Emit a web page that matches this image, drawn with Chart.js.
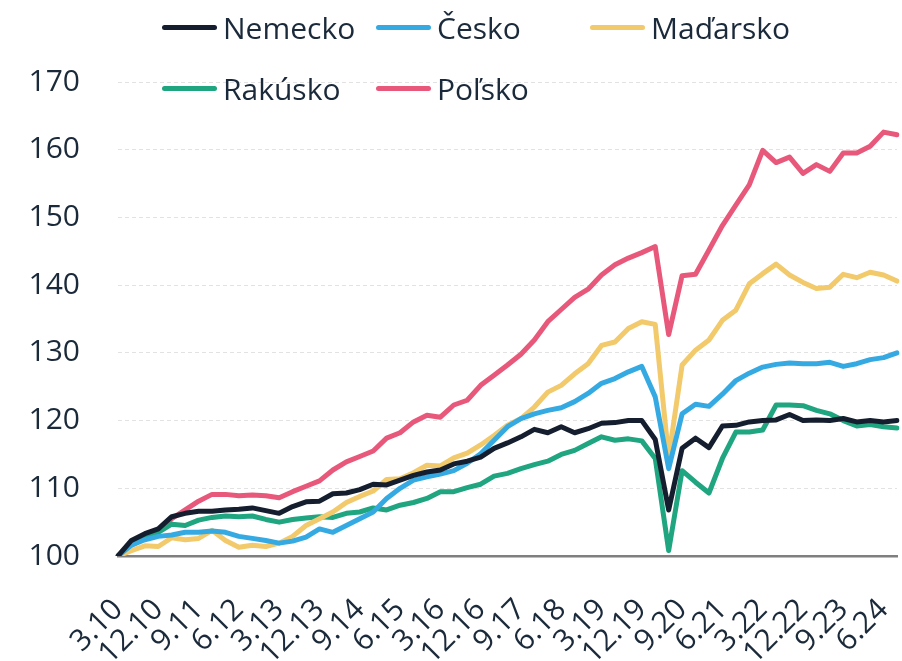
<!DOCTYPE html>
<html>
<head>
<meta charset="utf-8">
<script src="https://cdn.jsdelivr.net/npm/chart.js@4/dist/chart.umd.min.js"></script>
<style>
    body { margin: 0; background: #fff; }
    #wrap { position: relative; width: 902px; height: 661px; }
    #legend { position: absolute; left: 0; top: 0; width: 902px; height: 120px; pointer-events: none; }
    .legend-item { position: absolute; display: flex; align-items: center; font-family: "Open Sans", sans-serif; font-size: 30px; color: #1b2a3a; }
    .legend-line { width: 55px; height: 5px; border-radius: 3px; margin-right: 6px; }
</style>
</head>
<body>
<div id="wrap">
    <canvas id="chart" width="902" height="661"></canvas>
    <div id="legend"></div>
</div>
<script>
const labels = [
    '3.10', '6.10', '9.10', '12.10', '3.11', '6.11', '9.11', '12.11', '3.12', '6.12', '9.12', '12.12',
    '3.13', '6.13', '9.13', '12.13', '3.14', '6.14', '9.14', '12.14', '3.15', '6.15', '9.15', '12.15',
    '3.16', '6.16', '9.16', '12.16', '3.17', '6.17', '9.17', '12.17', '3.18', '6.18', '9.18', '12.18',
    '3.19', '6.19', '9.19', '12.19', '3.20', '6.20', '9.20', '12.20', '3.21', '6.21', '9.21', '12.21',
    '3.22', '6.22', '9.22', '12.22', '3.23', '6.23', '9.23', '12.23', '3.24', '6.24', '9.24'
];

const nemecko = [
    100, 102.3, 103.3, 104.0, 105.8, 106.3, 106.6, 106.6, 106.8, 106.9, 107.1, 106.7,
    106.3, 107.3, 108.0, 108.1, 109.2, 109.3, 109.8, 110.6, 110.5, 111.2, 111.9, 112.4,
    112.7, 113.6, 114.0, 114.6, 115.9, 116.7, 117.6, 118.7, 118.2, 119.1, 118.2, 118.8,
    119.6, 119.7, 120.0, 120.0, 117.2, 106.8, 115.9, 117.4, 116.0, 119.2, 119.3, 119.8,
    120.0, 120.1, 120.9, 120.0, 120.1, 120.0, 120.3, 119.8, 120.0, 119.8, 120.0
];
const cesko = [
    100, 101.6, 102.4, 102.9, 103.1, 103.5, 103.5, 103.7, 103.5, 102.9, 102.6, 102.3,
    101.9, 102.2, 102.8, 104.0, 103.5, 104.5, 105.5, 106.5, 108.5, 110.0, 111.2, 111.7,
    112.1, 112.6, 113.7, 115.1, 117.1, 119.1, 120.3, 121.0, 121.5, 121.9, 122.8, 124.0,
    125.5, 126.2, 127.2, 128.0, 123.5, 112.9, 121.0, 122.4, 122.1, 123.9, 125.9, 127.0,
    127.9, 128.3, 128.5, 128.4, 128.4, 128.6, 128.0, 128.4, 129.0, 129.3, 130.0
];
const madarsko = [
    100, 100.8, 101.5, 101.4, 102.7, 102.4, 102.6, 103.8, 102.3, 101.3, 101.6, 101.4,
    101.9, 102.9, 104.5, 105.5, 106.5, 107.9, 108.8, 109.6, 111.3, 111.4, 112.3, 113.4,
    113.3, 114.5, 115.2, 116.4, 117.8, 119.3, 120.3, 122.0, 124.2, 125.2, 126.9, 128.4,
    131.1, 131.6, 133.6, 134.6, 134.2, 114.6, 128.2, 130.4, 131.9, 134.8, 136.3, 140.2,
    141.7, 143.1, 141.5, 140.4, 139.5, 139.7, 141.6, 141.1, 141.9, 141.5, 140.6
];
const rakusko = [
    100, 101.8, 102.6, 103.5, 104.7, 104.5, 105.3, 105.7, 105.9, 105.8, 105.9, 105.4,
    105.0, 105.4, 105.6, 105.8, 105.7, 106.3, 106.5, 107.1, 106.8, 107.5, 107.9, 108.5,
    109.5, 109.5, 110.1, 110.6, 111.8, 112.2, 112.9, 113.5, 114.0, 115.0, 115.6, 116.6,
    117.6, 117.1, 117.3, 117.0, 114.4, 100.8, 112.6, 110.9, 109.3, 114.4, 118.3, 118.3,
    118.6, 122.3, 122.3, 122.2, 121.5, 121.0, 120.0, 119.2, 119.4, 119.1, 118.9
];
const polsko = [
    100, 101.6, 102.7, 103.8, 105.5, 106.8, 108.1, 109.1, 109.1, 108.9, 109.0, 108.9,
    108.6, 109.5, 110.3, 111.1, 112.7, 113.9, 114.7, 115.5, 117.4, 118.2, 119.8, 120.8,
    120.5, 122.3, 123.0, 125.2, 126.7, 128.2, 129.8, 131.9, 134.6, 136.4, 138.2, 139.4,
    141.5, 143.0, 144.0, 144.8, 145.7, 132.7, 141.4, 141.6, 145.2, 148.8, 151.8, 154.8,
    159.9, 158.1, 158.9, 156.5, 157.8, 156.8, 159.5, 159.5, 160.5, 162.6, 162.2
];

const series = [
    { name: 'Nemecko', data: nemecko, color: '#141e2e' },
    { name: 'Česko', data: cesko, color: '#35aae2' },
    { name: 'Maďarsko', data: madarsko, color: '#f2c96b' },
    { name: 'Rakúsko', data: rakusko, color: '#1fa57f' },
    { name: 'Poľsko', data: polsko, color: '#e8587a' },
];

const textColor = '#1b2a3a';
const fontFamily = '"Open Sans", sans-serif';

// legenda v dvoch riadkoch, stĺpce rovnako široké
let html = '';
series.forEach(function (s, i) {
    const col = i % 3;
    const row = Math.floor(i / 3);
    html += `<div class="legend-item" style="left:${162 + col * 214}px; top:${7 + row * 61}px;">
        <span class="legend-line" style="background:${s.color}"></span>${s.name}</div>`;
});
document.getElementById('legend').innerHTML = html;

new Chart(document.getElementById('chart'), {
    type: 'line',
    data: {
        labels: labels,
        datasets: series.map(s => ({
            label: s.name,
            data: s.data,
            borderColor: s.color,
            backgroundColor: s.color,
            borderWidth: 5,
            pointRadius: 0,
            tension: 0,
            borderJoinStyle: 'round',
            borderCapStyle: 'round',
        })),
    },
    options: {
        responsive: false,
        animation: false,
        layout: { padding: { top: 82, right: 5, left: 0, bottom: 0 } },
        plugins: {
            legend: { display: false },
            tooltip: { enabled: false },
        },
        scales: {
            x: {
                afterFit: function (scale) {
                    scale.height = 105;
                    scale.paddingRight = 0;
                    scale.paddingLeft = 0;
                },
                grid: { display: false },
                border: { display: true, color: '#7f7f7f', width: 2.5 },
                ticks: {
                    autoSkip: false,
                    maxRotation: 45,
                    minRotation: 45,
                    padding: 28,
                    color: textColor,
                    font: { family: fontFamily, size: 30 },
                    callback: function (value, index) {
                        return index % 3 === 0 ? this.getLabelForValue(value) : '';
                    },
                },
            },
            y: {
                min: 100,
                max: 170,
                afterFit: function (scale) { scale.width = 118; },
                border: { display: false, dash: [4, 3] },
                grid: {
                    drawTicks: false,
                    lineWidth: 1,
                    color: ctx => ctx.tick.value === 100 ? 'rgba(0,0,0,0)' : '#e2e2e2',
                },
                ticks: {
                    stepSize: 10,
                    padding: 38,
                    color: textColor,
                    font: { family: fontFamily, size: 30 },
                },
            },
        },
    },
});
</script>
</body>
</html>
